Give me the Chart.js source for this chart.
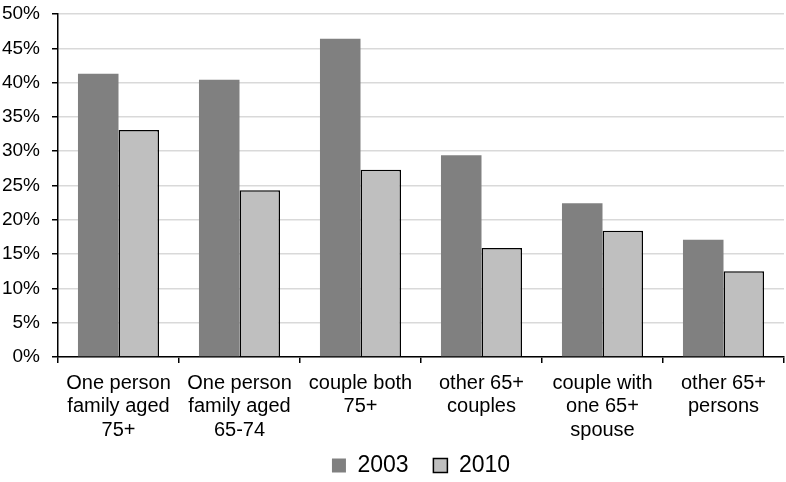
<!DOCTYPE html>
<html>
<head>
<meta charset="utf-8">
<script src="https://cdn.jsdelivr.net/npm/chart.js@4/dist/chart.umd.min.js"></script>
<style>
    html, body { margin: 0; padding: 0; background: #fff; }
    #wrap { width: 786px; height: 482px; }
</style>
</head>
<body>
<div id="wrap"><canvas id="chart"></canvas></div>
<script>
// categories (multi-line labels)
const categories = [
    ['One person', 'family aged', '75+'],
    ['One person', 'family aged', '65-74'],
    ['couple both', '75+'],
    ['other 65+', 'couples'],
    ['couple with', 'one 65+', 'spouse'],
    ['other 65+', 'persons']
];
const values2003 = [41.3, 40.4, 46.4, 29.4, 22.4, 17.1];
const values2010 = [33.1, 24.3, 27.3, 15.9, 18.4, 12.5];
const yTicks = [0, 5, 10, 15, 20, 25, 30, 35, 40, 45, 50];

const FONT = "'Liberation Sans', Arial, sans-serif";

// legend: tighter box below the axis labels, centred on the plot area
const legendTweak = {
    id: 'legendTweak',
    beforeInit(chart) {
        const fit = chart.legend.fit;
        chart.legend.fit = function () {
            fit.call(this);
            this.height -= 5;
        };
    },
    afterLayout(chart) {
        chart.legend.left = chart.chartArea.left;
    }
};

const ctx = document.getElementById('chart').getContext('2d');
new Chart(ctx, {
    type: 'bar',
    data: {
        labels: categories,
        datasets: [{
            label: '2003',
            data: values2003,
            backgroundColor: '#808080',
            borderWidth: 0
        }, {
            label: '2010',
            data: values2010,
            backgroundColor: '#bfbfbf',
            borderColor: '#000',
            borderWidth: 1.5
        }]
    },
    plugins: [legendTweak],
    options: {
        responsive: true,
        maintainAspectRatio: false,
        animation: false,
        categoryPercentage: 0.67,
        barPercentage: 1.0,
        layout: { padding: { top: 0, right: 2, left: 0, bottom: 0 } },
        plugins: {
            tooltip: { enabled: false },
            legend: {
                position: 'bottom',
                labels: {
                    color: '#000',
                    font: { family: FONT, size: 23 },
                    boxWidth: 14,
                    boxHeight: 14,
                    padding: 12,
                    generateLabels: chart => {
                        const items = Chart.defaults.plugins.legend.labels.generateLabels(chart);
                        items.forEach((it, i) => { if (i < items.length - 1) it.text += '  '; });
                        return items;
                    }
                }
            }
        },
        scales: {
            x: {
                afterFit: axis => { axis.height = 85; },
                grid: {
                    offset: true,
                    drawOnChartArea: false,
                    drawTicks: true,
                    tickLength: 6,
                    color: '#000',
                    lineWidth: 1.5
                },
                border: { color: '#000', width: 1.5 },
                ticks: {
                    color: '#000',
                    font: { family: FONT, size: 20, lineHeight: 1.165 },
                    maxRotation: 0,
                    autoSkip: false,
                    padding: 9
                }
            },
            y: {
                min: 0,
                max: 50,
                afterBuildTicks: axis => { axis.ticks = yTicks.map(v => ({ value: v })); },
                afterFit: axis => { axis.width = 58; axis.paddingTop = 14; },
                grid: {
                    color: '#d9d9d9',
                    lineWidth: 1.5,
                    tickColor: '#000',
                    tickLength: 6
                },
                border: { color: '#000', width: 1.5 },
                ticks: {
                    color: '#000',
                    font: { family: FONT, size: 19 },
                    padding: 12,
                    callback: v => v + '%'
                }
            }
        }
    }
});
</script>
</body>
</html>
